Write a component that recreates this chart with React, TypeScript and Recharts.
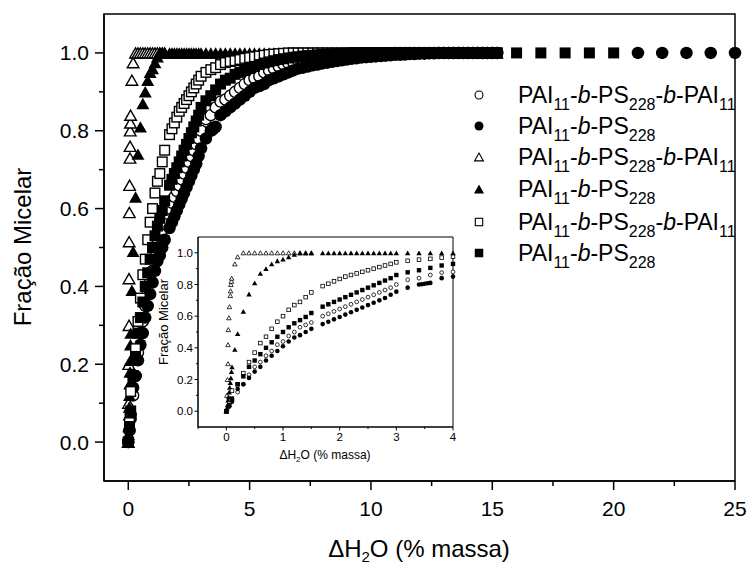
import React from "react";
import { ReferenceArea, Scatter, ScatterChart, XAxis, YAxis } from "recharts";

// Micellar fraction vs added water, six samples, with a zoomed inset (0–4 %).
const FONT = '"Liberation Sans", Arial, Helvetica, sans-serif';

// x grid used for circles and squares up to 4 %
const fineX = [0, 0.05, 0.1, 0.2, 0.3, 0.4, 0.5, 0.6, 0.7, 0.8, 0.9, 1.0, 1.1, 1.2, 1.3, 1.4, 1.5, 1.7, 1.8, 1.9, 2.0, 2.1, 2.2, 2.3, 2.4, 2.5, 2.6, 2.7, 2.8, 2.9, 3.0, 3.2, 3.4, 3.6, 3.8, 4.0];
// x grid beyond the inset (main plot only)
const tailX = [4.2, 4.4, 4.6, 4.8, 5, 5.2, 5.4, 5.6, 5.8, 6, 6.2, 6.4, 6.6, 6.8, 7, 7.2, 7.4, 7.6, 7.8, 8, 8.2, 8.4, 8.6, 8.8, 9, 9.2, 9.4, 9.6, 9.8, 10, 10.2, 10.4, 10.6, 10.8, 11, 11.2, 11.4, 11.6, 11.8, 12, 12.2, 12.4, 12.6, 12.8, 13, 13.2, 13.4, 13.6, 13.8, 14, 14.2, 14.4, 14.6, 14.8, 15, 15.2];

const openCircleFineY = [0, 0.03, 0.07, 0.12, 0.17, 0.23, 0.28, 0.31, 0.35, 0.38, 0.42, 0.44, 0.475, 0.5, 0.53, 0.545, 0.56, 0.6, 0.615, 0.63, 0.645, 0.66, 0.675, 0.69, 0.705, 0.72, 0.735, 0.75, 0.765, 0.78, 0.8, 0.83, 0.84, 0.86, 0.875, 0.88];
const openCircleTailY = [0.89, 0.9, 0.91, 0.92, 0.93, 0.935, 0.94, 0.95, 0.955, 0.96, 0.965, 0.97, 0.973, 0.976, 0.979, 0.981, 0.983, 0.985, 0.987, 0.989, 0.99, 0.991, 0.992, 0.993, 0.994, 0.995, 0.996, 0.996, 0.997, 0.997, 0.998, 0.998, 0.999, 0.999, 1, 1, 1, 1, 1, 1, 1, 1, 1, 1, 1, 1, 1, 1, 1, 1, 1, 1, 1, 1, 1, 1];

const filledCircleFineY = [0, 0.03, 0.06, 0.14, 0.17, 0.21, 0.25, 0.28, 0.32, 0.35, 0.38, 0.41, 0.44, 0.465, 0.48, 0.5, 0.52, 0.55, 0.565, 0.58, 0.595, 0.61, 0.625, 0.64, 0.655, 0.67, 0.685, 0.7, 0.715, 0.735, 0.755, 0.78, 0.8, 0.81, 0.84, 0.85];
const filledCircleClusterX = [3.45, 3.5, 3.55];
const filledCircleClusterY = [0.802, 0.805, 0.808];
const filledCircleTailY = [0.86, 0.87, 0.88, 0.89, 0.9, 0.91, 0.915, 0.92, 0.93, 0.935, 0.94, 0.945, 0.95, 0.955, 0.96, 0.962, 0.965, 0.968, 0.97, 0.973, 0.975, 0.977, 0.979, 0.981, 0.983, 0.985, 0.986, 0.988, 0.989, 0.99, 0.991, 0.992, 0.993, 0.994, 0.995, 0.995, 0.996, 0.997, 0.997, 0.998, 0.998, 0.999, 0.999, 1, 1, 1, 1, 1, 1, 1, 1, 1, 1, 1, 1, 1];
const farCircleX = [21, 22, 23, 24, 25];
const farCircleY = [1, 1, 1, 1, 1];

const openTriangleX = [0, 0.01, 0.02, 0.03, 0.03, 0.035, 0.045, 0.055, 0.07, 0.075, 0.08, 0.09, 0.095, 0.15, 0.2, 0.3, 0.4, 0.5, 0.6, 0.7, 0.8, 0.9, 1.0, 1.1, 1.2, 1.3, 1.4, 1.5];
const openTriangleY = [0, 0.1, 0.2, 0.3, 0.42, 0.515, 0.59, 0.66, 0.73, 0.76, 0.8, 0.82, 0.84, 0.93, 0.975, 1, 1, 1, 1, 1, 1, 1, 1, 1, 1, 1, 1, 1];

const filledTriangleX = [0, 0.01, 0.02, 0.03, 0.04, 0.05, 0.06, 0.07, 0.08, 0.09, 0.1, 0.15, 0.2, 0.3, 0.4, 0.5, 0.6, 0.7, 0.8, 0.9, 1.0, 1.1, 1.2, 1.3, 1.4, 1.5, 1.7, 1.8, 1.9, 2.0, 2.1, 2.2, 2.3, 2.4, 2.5, 2.6, 2.7, 2.8, 2.9, 3.0, 3.2, 3.4, 3.6, 3.8, 4.0];
const filledTriangleY = [0, 0.02, 0.04, 0.07, 0.09, 0.12, 0.15, 0.18, 0.21, 0.25, 0.28, 0.39, 0.49, 0.63, 0.74, 0.81, 0.87, 0.9, 0.93, 0.95, 0.96, 0.975, 0.99, 1, 1, 1, 1, 1, 1, 1, 1, 1, 1, 1, 1, 1, 1, 1, 1, 1, 1, 1, 1, 1, 1];
const filledTriangleTailY = [1, 1, 1, 1, 1, 1, 1, 1, 1, 1, 1, 1, 1, 1, 1, 1, 1, 1, 1, 1, 1, 1, 1, 1, 1, 1, 1, 1, 1, 1, 1, 1, 1, 1, 1, 1, 1, 1, 1, 1, 1, 1, 1, 1, 1, 1, 1, 1, 1, 1, 1, 1, 1, 1, 1, 1];

const openSquareFineY = [0, 0.05, 0.13, 0.17, 0.24, 0.31, 0.37, 0.43, 0.47, 0.52, 0.565, 0.6, 0.64, 0.67, 0.69, 0.72, 0.75, 0.79, 0.805, 0.82, 0.835, 0.85, 0.86, 0.87, 0.88, 0.89, 0.9, 0.91, 0.92, 0.93, 0.94, 0.95, 0.957, 0.962, 0.97, 0.975];
const openSquareTailY = [0.978, 0.98, 0.983, 0.986, 0.988, 0.99, 0.992, 0.994, 0.996, 0.997, 0.998, 0.999, 1, 1, 1, 1, 1, 1, 1, 1, 1, 1, 1, 1, 1, 1, 1, 1, 1, 1, 1, 1, 1, 1, 1, 1, 1, 1, 1, 1, 1, 1, 1, 1, 1, 1, 1, 1, 1, 1, 1, 1, 1, 1, 1, 1];

const filledSquareFineY = [0, 0.04, 0.08, 0.17, 0.22, 0.28, 0.32, 0.36, 0.4, 0.435, 0.47, 0.5, 0.53, 0.555, 0.575, 0.595, 0.62, 0.66, 0.675, 0.69, 0.705, 0.72, 0.735, 0.75, 0.765, 0.78, 0.795, 0.81, 0.825, 0.84, 0.86, 0.877, 0.89, 0.905, 0.92, 0.93];
const filledSquareTailY = [0.935, 0.945, 0.95, 0.955, 0.96, 0.965, 0.97, 0.974, 0.977, 0.98, 0.983, 0.985, 0.987, 0.989, 0.99, 0.992, 0.993, 0.994, 0.995, 0.996, 0.997, 0.997, 0.998, 0.998, 0.999, 1, 1, 1, 1, 1, 1, 1, 1, 1, 1, 1, 1, 1, 1, 1, 1, 1, 1, 1, 1, 1, 1, 1, 1, 1, 1, 1, 1, 1, 1, 1];
const farSquareX = [16, 17, 18, 19, 20];
const farSquareY = [1, 1, 1, 1, 1];

// legend text: _{..} = subscript, *..* = italic
const triblockLabel = "PAI_{11}-*b*-PS_{228}-*b*-PAI_{11}";
const diblockLabel = "PAI_{11}-*b*-PS_{228}";

const mainXTicks = [0, 2.5, 5, 7.5, 10, 12.5, 15, 17.5, 20, 22.5, 25];
const yTicks = [0, 0.1, 0.2, 0.3, 0.4, 0.5, 0.6, 0.7, 0.8, 0.9, 1.0];
const insetXTicks = [-0.5, 0, 0.5, 1, 1.5, 2, 2.5, 3, 3.5, 4];

type Pt = { x: number; y: number };
const zip = (xs: number[], ys: number[]): Pt[] => xs.map((x, i) => ({ x, y: ys[i] }));

type Kind = "circle" | "triangle" | "square";
interface SeriesDef {
  key: string;
  label: string;
  kind: Kind;
  filled: boolean;
  data: Pt[];
}

// drawn in legend order, so later (filled) series sit on top
const SERIES: SeriesDef[] = [
  { key: "oc", label: triblockLabel, kind: "circle", filled: false, data: [...zip(fineX, openCircleFineY), ...zip(tailX, openCircleTailY)] },
  { key: "fc", label: diblockLabel, kind: "circle", filled: true, data: [...zip(fineX, filledCircleFineY), ...zip(filledCircleClusterX, filledCircleClusterY), ...zip(tailX, filledCircleTailY), ...zip(farCircleX, farCircleY)] },
  { key: "ot", label: triblockLabel, kind: "triangle", filled: false, data: zip(openTriangleX, openTriangleY) },
  { key: "ft", label: diblockLabel, kind: "triangle", filled: true, data: [...zip(filledTriangleX, filledTriangleY), ...zip(tailX, filledTriangleTailY)] },
  { key: "os", label: triblockLabel, kind: "square", filled: false, data: [...zip(fineX, openSquareFineY), ...zip(tailX, openSquareTailY)] },
  { key: "fs", label: diblockLabel, kind: "square", filled: true, data: [...zip(fineX, filledSquareFineY), ...zip(tailX, filledSquareTailY), ...zip(farSquareX, farSquareY)] },
];

const SIZES = {
  main: { circle: 12.5, square: 11, triangle: 13, sw: 1.4 },
  inset: { circle: 4.6, square: 4.4, triangle: 5.4, sw: 0.8 },
  legend: { circle: 9, square: 8.5, triangle: 10, sw: 1.1 },
};

function MarkerGlyph({ kind, filled, cx, cy, size, sw }: { kind: Kind; filled: boolean; cx: number; cy: number; size: number; sw: number }) {
  const fill = filled ? "#000" : "#fff";
  const s = filled ? size : size - sw;
  const common = { fill, stroke: filled ? "none" : "#000", strokeWidth: sw };
  if (kind === "circle") return <circle cx={cx} cy={cy} r={s / 2} {...common} />;
  if (kind === "square") return <rect x={cx - s / 2} y={cy - s / 2} width={s} height={s} {...common} />;
  const h = s * 0.88;
  return <polygon points={`${cx},${cy - h / 2} ${cx - s / 2},${cy + h / 2} ${cx + s / 2},${cy + h / 2}`} {...common} />;
}

function shapeFor(kind: Kind, filled: boolean, size: number, sw: number) {
  return (props: any) => {
    const { cx, cy } = props;
    if (cx == null || cy == null) return <g />;
    return <MarkerGlyph kind={kind} filled={filled} cx={cx} cy={cy} size={size} sw={sw} />;
  };
}

const isMajorY = (v: number) => Math.round(v * 10) % 2 === 0;

function MainYTick(props: any) {
  const { x, y, payload } = props;
  const v = payload.value as number;
  const major = isMajorY(v);
  return (
    <g>
      <line x1={x} x2={x - (major ? 9 : 5)} y1={y} y2={y} stroke="#000" strokeWidth={1.5} />
      {major && (
        <text x={x - 15} y={y} dy="0.36em" textAnchor="end" fontSize={21} fontFamily={FONT} fill="#000">
          {v.toFixed(1)}
        </text>
      )}
    </g>
  );
}

function MainXTick(props: any) {
  const { x, y, payload } = props;
  const v = payload.value as number;
  const major = v % 5 === 0;
  return (
    <g>
      <line x1={x} x2={x} y1={y} y2={y + (major ? 9 : 5)} stroke="#000" strokeWidth={1.5} />
      {major && (
        <text x={x} y={y + 27} dy="0.36em" textAnchor="middle" fontSize={21} fontFamily={FONT} fill="#000">
          {v}
        </text>
      )}
    </g>
  );
}

function InsetYTick(props: any) {
  const { x, y, payload } = props;
  const v = payload.value as number;
  const major = isMajorY(v);
  return (
    <g>
      <line x1={x} x2={x - (major ? 3.5 : 2)} y1={y} y2={y} stroke="#000" strokeWidth={1} />
      {major && (
        <text x={x - 5} y={y} dy="0.36em" textAnchor="end" fontSize={11.5} fontFamily={FONT} fill="#000">
          {v.toFixed(1)}
        </text>
      )}
    </g>
  );
}

function InsetXTick(props: any) {
  const { x, y, payload } = props;
  const v = payload.value as number;
  const major = Number.isInteger(v);
  return (
    <g>
      <line x1={x} x2={x} y1={y} y2={y + (major ? 3.5 : 2)} stroke="#000" strokeWidth={1} />
      {major && (
        <text x={x} y={y + 10} dy="0.36em" textAnchor="middle" fontSize={11.5} fontFamily={FONT} fill="#000">
          {v}
        </text>
      )}
    </g>
  );
}

// tiny markup: _{sub} and *italic*
function RichText({ text, size, subSize, subShift }: { text: string; size: number; subSize: number; subShift: number }) {
  const parts = text.split(/(_\{[^}]*\}|\*[^*]*\*)/).filter(Boolean);
  let shifted = false;
  return (
    <>
      {parts.map((p, i) => {
        if (p.startsWith("_{")) {
          shifted = true;
          return (
            <tspan key={i} dy={subShift} fontSize={subSize}>
              {p.slice(2, -1)}
            </tspan>
          );
        }
        const dy = shifted ? -subShift : undefined;
        shifted = false;
        if (p.startsWith("*")) {
          return (
            <tspan key={i} dy={dy} fontSize={size} fontStyle="italic">
              {p.slice(1, -1)}
            </tspan>
          );
        }
        return (
          <tspan key={i} dy={dy} fontSize={size}>
            {p}
          </tspan>
        );
      })}
    </>
  );
}

function Overlay() {
  const legendX = 479;
  const textX = 518;
  const rowY = [95, 126, 157, 189, 222, 253];
  return (
    <svg width={749} height={565} style={{ position: "absolute", left: 0, top: 0, pointerEvents: "none" }}>
      {/* main axis titles */}
      <text x={419} y={557} textAnchor="middle" fontFamily={FONT} fill="#000">
        <RichText text="ΔH_{2}O (% massa)" size={24} subSize={15} subShift={5} />
      </text>
      <text transform="translate(22,247) rotate(-90)" textAnchor="middle" dy="0.36em" fontSize={24} fontFamily={FONT} fill="#000">
        Fração Micelar
      </text>
      {/* inset axis titles */}
      <text x={325} y={459} textAnchor="middle" fontFamily={FONT} fill="#000">
        <RichText text="ΔH_{2}O (% massa)" size={12} subSize={8} subShift={3} />
      </text>
      <text transform="translate(163,322) rotate(-90)" textAnchor="middle" dy="0.36em" fontSize={13} fontFamily={FONT} fill="#000">
        Fração Micelar
      </text>
      {/* legend */}
      {SERIES.map((s, i) => (
        <g key={s.key}>
          <MarkerGlyph kind={s.kind} filled={s.filled} cx={legendX} cy={rowY[i]} size={SIZES.legend[s.kind]} sw={SIZES.legend.sw} />
          <text x={textX} y={rowY[i] + 8} fontFamily={FONT} fill="#000">
            <RichText text={s.label} size={23} subSize={16} subShift={7} />
          </text>
        </g>
      ))}
    </svg>
  );
}

export default function App() {
  return (
    <div style={{ position: "absolute", left: 0, top: 0, width: 749, height: 565, background: "#fff", overflow: "hidden" }}>
      <div style={{ position: "absolute", left: 0, top: 0 }}>
        <ScatterChart width={749} height={565} margin={{ top: 14, right: 14, bottom: 0, left: 0 }}>
          <XAxis
            type="number"
            dataKey="x"
            domain={[-1, 25]}
            ticks={mainXTicks}
            interval={0}
            tickSize={0}
            tickMargin={0}
            tickLine={false}
            tick={MainXTick}
            axisLine={{ stroke: "#000", strokeWidth: 1.5 }}
            height={84}
          />
          <YAxis
            type="number"
            dataKey="y"
            domain={[-0.1, 1.1]}
            ticks={yTicks}
            interval={0}
            tickSize={0}
            tickMargin={0}
            tickLine={false}
            tick={MainYTick}
            axisLine={{ stroke: "#000", strokeWidth: 1.5 }}
            width={104}
          />
          <ReferenceArea x1={-1} x2={25} y1={-0.1} y2={1.1} fill="none" stroke="#000" strokeWidth={1.5} />
          {SERIES.map((s) => (
            <Scatter
              key={s.key}
              data={s.data}
              isAnimationActive={false}
              shape={shapeFor(s.kind, s.filled, SIZES.main[s.kind], SIZES.main.sw)}
            />
          ))}
        </ScatterChart>
      </div>
      <div style={{ position: "absolute", left: 140, top: 225 }}>
        <ScatterChart width={330} height={240} margin={{ top: 12, right: 17, bottom: 0, left: 0 }}>
          <XAxis
            type="number"
            dataKey="x"
            domain={[-0.5, 4]}
            ticks={insetXTicks}
            interval={0}
            tickSize={0}
            tickMargin={0}
            tickLine={false}
            tick={InsetXTick}
            axisLine={{ stroke: "#000", strokeWidth: 1 }}
            height={38}
          />
          <YAxis
            type="number"
            dataKey="y"
            domain={[-0.1, 1.1]}
            ticks={yTicks}
            interval={0}
            tickSize={0}
            tickMargin={0}
            tickLine={false}
            tick={InsetYTick}
            axisLine={{ stroke: "#000", strokeWidth: 1 }}
            width={58}
          />
          <ReferenceArea x1={-0.5} x2={4} y1={-0.1} y2={1.1} fill="none" stroke="#000" strokeWidth={1} />
          {SERIES.map((s) => (
            <Scatter
              key={s.key}
              data={s.data.filter((p) => p.x <= 4)}
              isAnimationActive={false}
              shape={shapeFor(s.kind, s.filled, SIZES.inset[s.kind], SIZES.inset.sw)}
            />
          ))}
        </ScatterChart>
      </div>
      <Overlay />
    </div>
  );
}
